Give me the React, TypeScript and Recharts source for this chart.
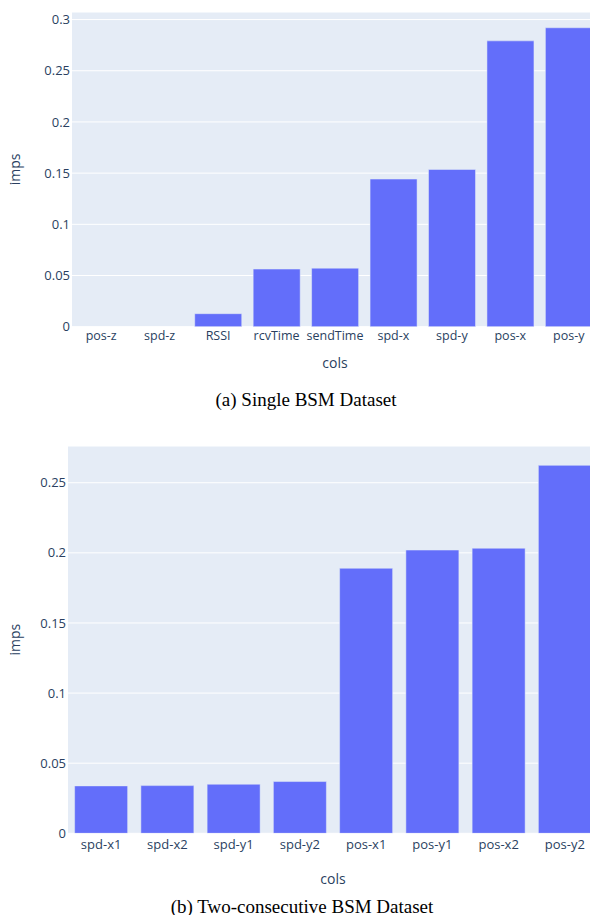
import React from 'react';
import { BarChart, Bar, XAxis, YAxis, CartesianGrid, Label } from 'recharts';

// Feature importances, single BSM dataset
const colsSingle = ['pos-z', 'spd-z', 'RSSI', 'rcvTime', 'sendTime', 'spd-x', 'spd-y', 'pos-x', 'pos-y'];
const impsSingle = [0, 0, 0.0127, 0.0563, 0.0572, 0.1442, 0.1536, 0.2792, 0.292];
const ticksSingle = [0, 0.05, 0.1, 0.15, 0.2, 0.25, 0.3];

// Feature importances, two-consecutive BSM dataset
const colsPair = ['spd-x1', 'spd-x2', 'spd-y1', 'spd-y2', 'pos-x1', 'pos-y1', 'pos-x2', 'pos-y2'];
const impsPair = [0.0338, 0.034, 0.035, 0.0369, 0.189, 0.202, 0.2033, 0.2624];
const ticksPair = [0, 0.05, 0.1, 0.15, 0.2, 0.25];

const rowsSingle = colsSingle.map((cols, i) => ({ cols, imps: impsSingle[i] }));
const rowsPair = colsPair.map((cols, i) => ({ cols, imps: impsPair[i] }));

const FONT = '"Open Sans", Verdana, Arial, sans-serif';
const INK = '#2a3f5f';
const PLOT_BG = '#E5ECF6';
const BAR = '#636efa';

const xTitle = (dy: number) => (p: any) => {
  const vb = p.viewBox || {};
  return (
    <text
      x={vb.x + vb.width / 2}
      y={vb.y + dy}
      textAnchor="middle"
      dominantBaseline="central"
      fontFamily={FONT}
      fontSize={14}
      fill={INK}
    >
      cols
    </text>
  );
};

const yTitle = (dx: number) => (p: any) => {
  const vb = p.viewBox || {};
  const cx = vb.x + dx;
  const cy = vb.y + vb.height / 2;
  return (
    <text
      x={cx}
      y={cy}
      transform={`rotate(-90 ${cx} ${cy})`}
      textAnchor="middle"
      dominantBaseline="central"
      fontFamily={FONT}
      fontSize={14}
      fill={INK}
    >
      imps
    </text>
  );
};

type PanelProps = {
  rows: { cols: string; imps: number }[];
  ticks: number[];
  yMax: number;
  height: number;
  margin: { top: number; right: number; bottom: number; left: number };
  xFont: number;
  xTickGap: number;
  xTitleDy: number;
  yTitleDx: number;
};

function ImportancePanel(props: PanelProps) {
  const { rows, ticks, yMax, height, margin, xFont, xTickGap, xTitleDy, yTitleDx } = props;
  return (
    <BarChart width={598} height={height} data={rows} margin={margin} barCategoryGap="10%">
      <CartesianGrid vertical={false} stroke="#ffffff" strokeWidth={1} fill={PLOT_BG} />
      <XAxis
        dataKey="cols"
        height={50}
        interval={0}
        tickLine={false}
        axisLine={false}
        tickSize={0}
        tickMargin={xTickGap}
        tick={{ fontFamily: FONT, fontSize: xFont, fill: INK }}
      >
        <Label content={xTitle(xTitleDy)} />
      </XAxis>
      <YAxis
        width={60}
        domain={[0, yMax]}
        ticks={ticks}
        allowDataOverflow
        tickLine={false}
        axisLine={false}
        tickSize={0}
        tickMargin={2}
        tick={{ fontFamily: FONT, fontSize: 13, fill: INK }}
      >
        <Label content={yTitle(yTitleDx)} />
      </YAxis>
      <Bar dataKey="imps" fill={BAR} stroke={PLOT_BG} strokeWidth={0.5} isAnimationActive={false} />
    </BarChart>
  );
}

const captionStyle: React.CSSProperties = {
  position: 'absolute',
  left: 0,
  fontFamily: '"Liberation Serif", "Times New Roman", serif',
  fontSize: 19,
  lineHeight: '21px',
  color: '#000',
  textAlign: 'center',
  whiteSpace: 'nowrap',
};

export default function App() {
  return (
    <div
      style={{
        position: 'relative',
        width: 598,
        height: 923,
        margin: -8,
        overflow: 'hidden',
        background: '#ffffff',
      }}
    >
      <div style={{ position: 'absolute', left: 0, top: 0 }}>
        <ImportancePanel
          rows={rowsSingle}
          ticks={ticksSingle}
          yMax={0.3074}
          height={380}
          margin={{ top: 12, right: 0, bottom: 3.3, left: 12 }}
          xFont={12.5}
          xTickGap={4}
          xTitleDy={36}
          yTitleDx={3}
        />
      </div>
      <div style={{ ...captionStyle, top: 389, width: 612 }}>(a) Single BSM Dataset</div>

      <div style={{ position: 'absolute', left: 0, top: 440 }}>
        <ImportancePanel
          rows={rowsPair}
          ticks={ticksPair}
          yMax={0.2762}
          height={470}
          margin={{ top: 6, right: 0, bottom: 26.7, left: 8 }}
          xFont={13}
          xTickGap={6}
          xTitleDy={44.7}
          yTitleDx={7}
        />
      </div>
      <div style={{ ...captionStyle, top: 896, width: 604 }}>(b) Two-consecutive BSM Dataset</div>
    </div>
  );
}
